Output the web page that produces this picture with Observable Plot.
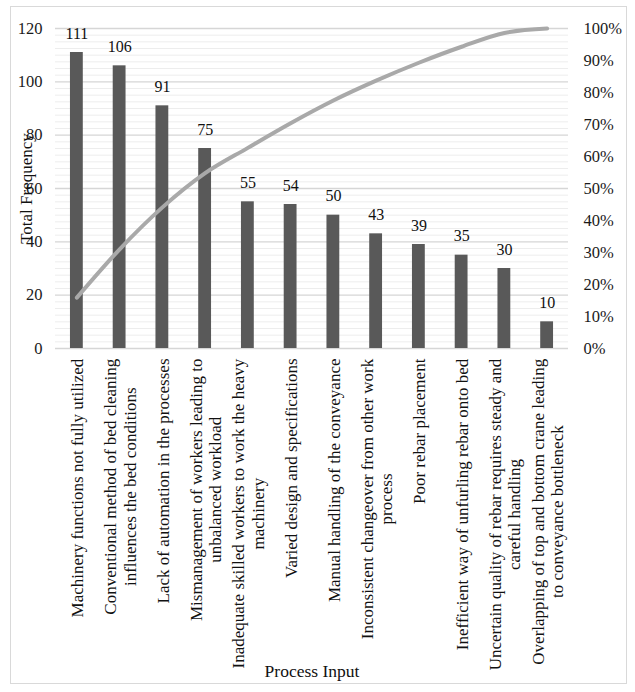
<!DOCTYPE html>
<html><head><meta charset="utf-8">
<script src="https://cdn.jsdelivr.net/npm/d3@7"></script>
<script src="https://cdn.jsdelivr.net/npm/@observablehq/plot@0.6"></script>
<style>
body{margin:0;background:#fff;}
#wrap{position:relative;width:635px;height:692px;}
#wrap svg{position:absolute;left:0;top:0;}
#wrap svg text{font-family:'Liberation Serif','Times New Roman',serif;}
#border{position:absolute;left:10px;top:6px;width:617px;height:678px;border:1.5px solid #d9d9d9;box-sizing:border-box;pointer-events:none}
</style></head><body><div id="wrap"><div id="border"></div></div>
<script>
const categories = [
  "Machinery functions not fully utilized",
  "Conventional method of bed cleaning\ninfluences the bed conditions",
  "Lack of automation in the processes",
  "Mismanagement of workers leading to\nunbalanced workload",
  "Inadequate skilled workers to work the heavy\nmachinery",
  "Varied design and specifications",
  "Manual handling of the conveyance",
  "Inconsistent changeover from other work\nprocess",
  "Poor rebar placement",
  "Inefficient way of unfurling rebar onto bed",
  "Uncertain quality of rebar requires steady and\ncareful handling",
  "Overlapping of top and bottom crane leading\nto conveyance bottleneck"
];
const frequencies = [111, 106, 91, 75, 55, 54, 50, 43, 39, 35, 30, 10];
const cumulativePct = [15.9, 31.0, 44.1, 54.8, 62.7, 70.4, 77.5, 83.7, 89.3, 94.3, 98.6, 100];
const leftTicks = [0, 20, 40, 60, 80, 100, 120];
const rightTicks = [0, 10, 20, 30, 40, 50, 60, 70, 80, 90, 100];
const yTitle = "Total Frequency";
const xTitle = "Process Input";

const yMax = 120;
const pctToY = p => p / 100 * yMax;
const data = categories.map((c, i) => ({cat: c, freq: frequencies[i], pct: cumulativePct[i]}));
const font = "'Liberation Serif', 'Times New Roman', serif";

const chart = Plot.plot({
  width: 635, height: 692,
  marginLeft: 55, marginRight: 67, marginTop: 28, marginBottom: 344,
  style: {fontFamily: font, fontSize: "15px", color: "#1a1a1a", background: "transparent"},
  x: {type: "band", domain: categories, paddingInner: 0.7, paddingOuter: 0.35, round: false, axis: null},
  y: {domain: [0, yMax], axis: null},
  marks: [
    Plot.ruleY(d3.range(0, yMax, 2.5).filter(v => v % 20 !== 0), {stroke: "#ededed", strokeWidth: 1}),
    Plot.ruleY(leftTicks, {stroke: "#d6d6d6", strokeWidth: 1.3}),
    Plot.barY(data, {x: "cat", y: "freq", fill: "#595959"}),
    Plot.line(data, {x: "cat", y: d => pctToY(d.pct), stroke: "#a9a9a9", strokeWidth: 4, curve: "monotone-x", strokeLinecap: "round"}),
    Plot.text(data, {x: "cat", y: "freq", text: d => String(d.freq), dy: -19, fontSize: 16, fontFamily: font, fill: "#111"}),
    Plot.axisY({ticks: leftTicks, tickSize: 0, tickPadding: 13, fontSize: 16.5, fontFamily: font, label: null}),
    Plot.axisY({anchor: "right", ticks: rightTicks.map(pctToY), tickFormat: v => Math.round(v / yMax * 100) + "%", tickSize: 0, tickPadding: 15, fontSize: 16.5, fontFamily: font, label: null}),
    Plot.text(categories, {x: d => d, text: d => d, frameAnchor: "bottom", rotate: -90, textAnchor: "middle", lineAnchor: "middle", lineHeight: 1.15, dy: 10, fontSize: 17, fontFamily: font, fill: "#111"}),
    Plot.text([yTitle], {text: d => d, frameAnchor: "left", textAnchor: "middle", lineAnchor: "middle", rotate: -90, dx: -29, fontSize: 17, fontFamily: font, fill: "#111"}),
    Plot.text([xTitle], {text: d => d, frameAnchor: "bottom", textAnchor: "middle", lineAnchor: "middle", dy: 323, fontSize: 17.5, fontFamily: font, fill: "#111"})
  ]
});
document.getElementById("wrap").prepend(chart);
const flat = new Set(categories.map(c => c.replace(/\n/g, "")));
chart.querySelectorAll("text").forEach(t => {
  if (!flat.has(t.textContent)) return;
  const w = t.getBBox().width;
  t.setAttribute("transform", (t.getAttribute("transform") || "") + ` translate(${-w / 2},0)`);
});
</script>
</body></html>
